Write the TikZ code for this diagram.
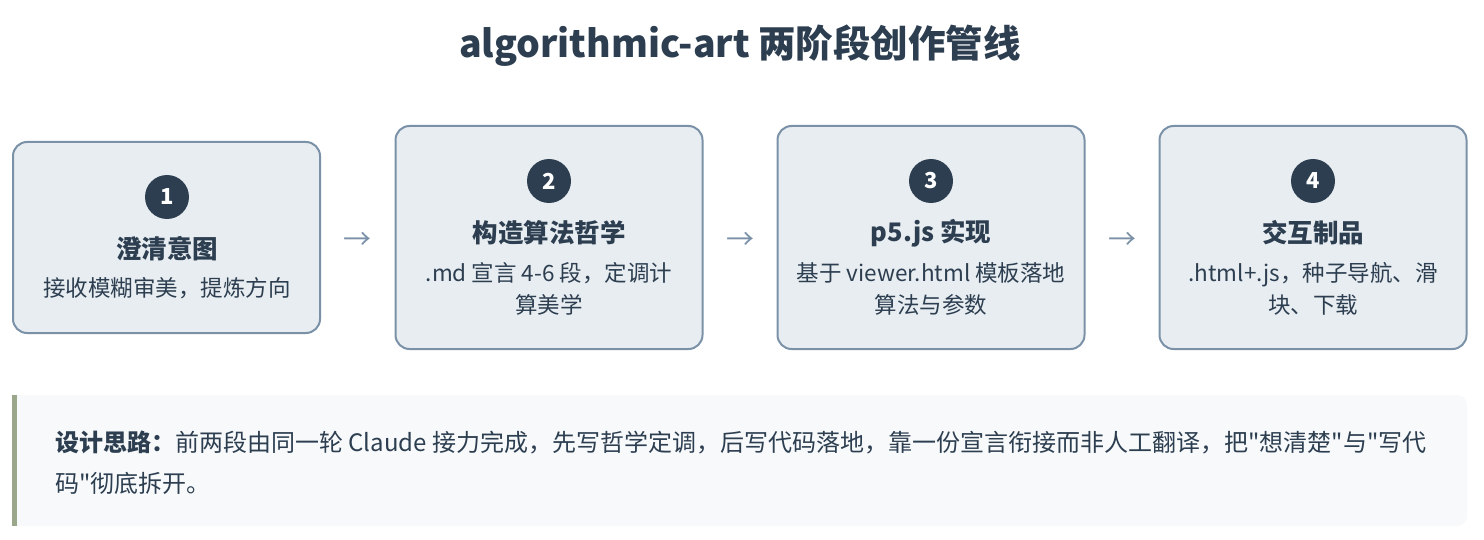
\documentclass[tikz,border=0pt]{standalone}
\usepackage{fontspec}
\setmainfont{Noto Sans CJK SC}[Ligatures=TeXOff]
\definecolor{ink}{HTML}{2C3E50}
\definecolor{boxfill}{HTML}{E8EDF1}
\definecolor{boxline}{HTML}{7A91A8}
\definecolor{notefill}{HTML}{F7F9FA}
\definecolor{notebar}{HTML}{9BA78A}
\begin{document}
\begin{tikzpicture}[x=1pt,y=-1pt,
  stage/.style={draw=boxline, fill=boxfill, line width=2pt, rounded corners=14pt,
    minimum width=307pt, inner sep=0pt},
  badge/.style={circle, fill=ink, minimum size=44pt, inner sep=0pt, text=white,
    font=\fontsize{22}{24}\selectfont\bfseries},
  stitle/.style={text=ink, font=\fontsize{25.5}{30}\selectfont\bfseries, inner sep=0pt},
  sdesc/.style={text=ink, font=\fontsize{22.5}{32}\selectfont, align=center, inner sep=0pt},
  flow/.style={text=boxline, font=\fontsize{28}{30}\selectfont, inner sep=0pt, yshift=-3pt},
  notetext/.style={text=ink, font=\fontsize{24}{30}\selectfont, anchor=west, inner sep=0pt}
]
\useasboundingbox (0,0) rectangle (1484,540);
\fill[white] (0,0) rectangle (1484,540);

\node[text=ink, font=\fontsize{37.5}{40}\selectfont\bfseries, inner sep=0pt] (title) at (740,46)
  {algorithmic-art 两阶段创作管线};

% stages
\node[stage, minimum height=191pt] (b1) at (166.5,237.5) {};
\node[stage, minimum height=223pt] (b2) at (549,237.5) {};
\node[stage, minimum height=223pt] (b3) at (931,237.5) {};
\node[stage, minimum height=223pt] (b4) at (1313,237.5) {};

\node[badge] (n1) at (167,197) {1};
\node[stitle] (t1) at (167,249) {澄清意图};
\node[sdesc] (d1) at (167,288) {接收模糊审美，提炼方向};

\node[badge] (n2) at (549,181) {2};
\node[stitle] (t2) at (549,233) {构造算法哲学};
\node[sdesc] (d2) at (549,289) {.md 宣言 4-6 段，定调计\\算美学};

\node[badge] (n3) at (931,181) {3};
\node[stitle] (t3) at (931,233) {p5.js 实现};
\node[sdesc] (d3) at (931,289) {基于 viewer.html 模板落地\\算法与参数};

\node[badge] (n4) at (1313,181) {4};
\node[stitle] (t4) at (1313,233) {交互制品};
\node[sdesc] (d4) at (1313,289) {.html+.js，种子导航、滑\\块、下载};

\path (b1.east) -- node[flow] (a12) {→} (b2.west);
\path (b2.east) -- node[flow] (a23) {→} (b3.west);
\path (b3.east) -- node[flow] (a34) {→} (b4.west);

% note
\node[fill=notefill, rounded corners=10pt, minimum width=1455pt, minimum height=131pt,
  inner sep=0pt] (note) at (739.5,460.5) {};
\fill[notefill] (12,395) rectangle (40,526);
\fill[notebar] (12,395) rectangle (17,526);
\node[notetext] (l1) at (55,443) {\textbf{设计思路：}前两段由同一轮 Claude 接力完成，先写哲学定调，后写代码落地，靠一份宣言衔接而非人工翻译，把"想清楚"与"写代};
\node[notetext] (l2) at (55,483) {码"彻底拆开。};
\end{tikzpicture}
\end{document}
